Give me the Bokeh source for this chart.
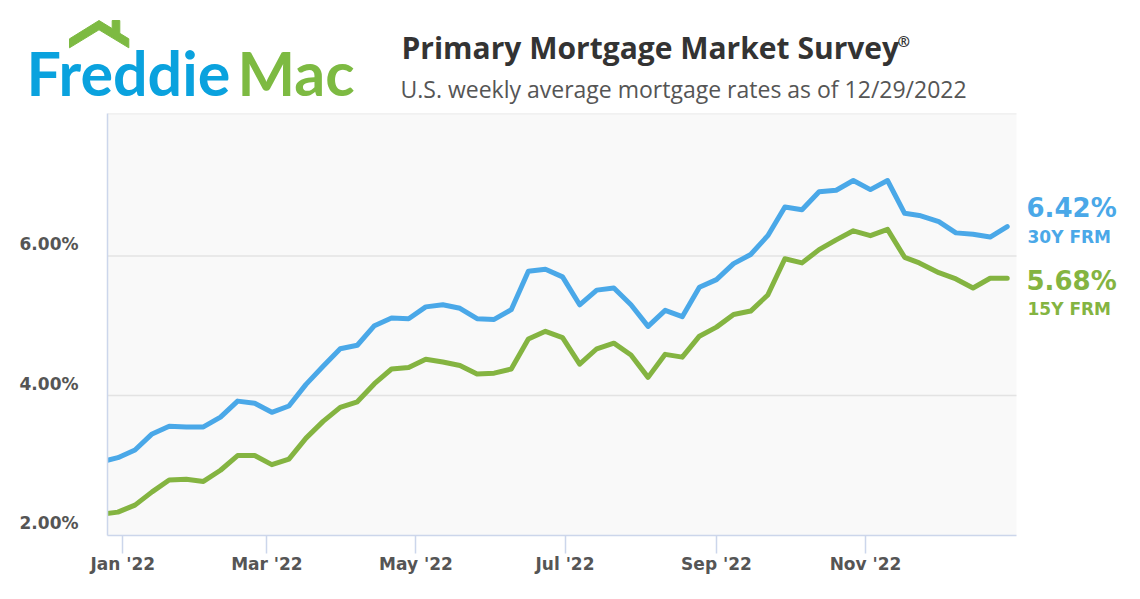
import pandas as pd
from datetime import datetime
from bokeh.plotting import figure
from bokeh.models import (Range1d, FixedTicker, PrintfTickFormatter,
                          DatetimeTickFormatter, Label, BoxAnnotation)
from bokeh.core.properties import value
from bokeh.embed import file_html
from bokeh.resources import INLINE

# ---------------- data ----------------
dates = [
    "2021-12-23", "2021-12-30",
    "2022-01-06", "2022-01-13", "2022-01-20", "2022-01-27",
    "2022-02-03", "2022-02-10", "2022-02-17", "2022-02-24",
    "2022-03-03", "2022-03-10", "2022-03-17", "2022-03-24", "2022-03-31",
    "2022-04-07", "2022-04-14", "2022-04-21", "2022-04-28",
    "2022-05-05", "2022-05-12", "2022-05-19", "2022-05-26",
    "2022-06-02", "2022-06-09", "2022-06-16", "2022-06-23", "2022-06-30",
    "2022-07-07", "2022-07-14", "2022-07-21", "2022-07-28",
    "2022-08-04", "2022-08-11", "2022-08-18", "2022-08-25",
    "2022-09-01", "2022-09-08", "2022-09-15", "2022-09-22", "2022-09-29",
    "2022-10-06", "2022-10-13", "2022-10-20", "2022-10-27",
    "2022-11-03", "2022-11-10", "2022-11-17", "2022-11-23",
    "2022-12-01", "2022-12-08", "2022-12-15", "2022-12-22", "2022-12-29",
]
frm30 = [
    3.05, 3.11,
    3.22, 3.45, 3.56, 3.55,
    3.55, 3.69, 3.92, 3.89,
    3.76, 3.85, 4.16, 4.42, 4.67,
    4.72, 5.00, 5.11, 5.10,
    5.27, 5.30, 5.25, 5.10,
    5.09, 5.23, 5.78, 5.81, 5.70,
    5.30, 5.51, 5.54, 5.30,
    4.99, 5.22, 5.13, 5.55,
    5.66, 5.89, 6.02, 6.29, 6.70,
    6.66, 6.92, 6.94, 7.08,
    6.95, 7.08, 6.61, 6.58,
    6.49, 6.33, 6.31, 6.27, 6.42,
]
frm15 = [
    2.30, 2.33,
    2.43, 2.62, 2.79, 2.80,
    2.77, 2.93, 3.14, 3.14,
    3.01, 3.09, 3.39, 3.63, 3.83,
    3.91, 4.17, 4.38, 4.40,
    4.52, 4.48, 4.43, 4.31,
    4.32, 4.38, 4.81, 4.92, 4.83,
    4.45, 4.67, 4.75, 4.58,
    4.26, 4.59, 4.55, 4.85,
    4.98, 5.16, 5.21, 5.44, 5.96,
    5.90, 6.09, 6.23, 6.36,
    6.29, 6.38, 5.98, 5.90,
    5.76, 5.67, 5.54, 5.68, 5.68,
]
xtick_dates = ["2022-01-01", "2022-03-01", "2022-05-01",
               "2022-07-01", "2022-09-01", "2022-11-01"]
ytick_values = [2, 4, 6]
series_names = ["30Y FRM", "15Y FRM"]

title_text = "Primary Mortgage Market Survey"
subtitle_text = "U.S. weekly average mortgage rates as of 12/29/2022"

BLUE = "#4aa8e8"
GREEN = "#84b441"
LOGO_BLUE = "#0aa2de"
LOGO_GREEN = "#7dba42"
AXIS_FONT = "DejaVu Sans"
TITLE_FONT = "Open Sans"
LOGO_FONT = "Lato"

dts = pd.to_datetime(dates)


def ms(d):
    return pd.Timestamp(d).timestamp() * 1000.0


W = 1140

# ---------------- header (its own root) ----------------
HEAD_H = 108
head = figure(width=W, height=HEAD_H, x_range=Range1d(0, W), y_range=Range1d(HEAD_H, 0),
              output_backend="svg", toolbar_location=None,
              x_axis_location=None, y_axis_location=None,
              min_border=0, outline_line_color=None)
head.grid.visible = False

roof_x = [69, 98.5, 111.7, 111.7, 119.3, 119.3, 128.3, 128.3, 98.5, 69]
roof_y = [38.3, 20, 28.1, 20, 20, 32.8, 38.3, 47.3, 29.3, 47.3]
head.patch(roof_x, roof_y, color=LOGO_GREEN)
head.text(x=[26], y=[72], text=["Freddie"], text_font=value(LOGO_FONT),
          text_font_size="61px", text_font_style="bold", text_color=LOGO_BLUE,
          text_baseline="middle")
head.text(x=[237], y=[72], text=["Mac"], text_font=value(LOGO_FONT),
          text_font_size="61px", text_font_style="bold", text_color=LOGO_GREEN,
          text_baseline="middle")
head.text(x=[401], y=[47], text=[title_text], text_font=value(TITLE_FONT),
          text_font_size="30px", text_font_style="bold", text_color="#333333",
          text_baseline="middle")
head.text(x=[897], y=[40], text=["®"], text_font=value(TITLE_FONT),
          text_font_size="15px", text_font_style="bold", text_color="#333333",
          text_baseline="middle")
head.text(x=[400], y=[88], text=[subtitle_text], text_font=value(TITLE_FONT),
          text_font_size="23px", text_color="#555555", text_baseline="middle")

# ---------------- chart ----------------
x_start = datetime(2021, 12, 25, 18)
x_plot_end = datetime(2023, 1, 1, 19)
y_lo, y_hi = 1.995, 8.04

FRAME_L, FRAME_R_PLOT, CANVAS_R = 107, 1016, W   # screen px
span_ms = ms(x_plot_end) - ms(x_start)
x_frame_end = ms(x_start) + span_ms * (CANVAS_R - FRAME_L) / (FRAME_R_PLOT - FRAME_L)

p = figure(width=W, height=599 - HEAD_H, x_axis_type="datetime",
           x_range=Range1d(ms(x_start), x_frame_end), y_range=Range1d(y_lo, y_hi),
           output_backend="svg", toolbar_location=None,
           min_border_left=FRAME_L, min_border_right=0,
           min_border_top=5, min_border_bottom=64)
p.background_fill_color = "white"
p.border_fill_color = "white"
p.outline_line_color = None

# plot-area background
p.add_layout(BoxAnnotation(left=ms(x_start), right=ms(x_plot_end),
                           fill_color="#f9f9f9", fill_alpha=1.0,
                           line_color=None, level="underlay"))

# grid lines and top border, limited to the plot area
grid_vals = ytick_values[1:] + [y_hi]
p.segment(x0=[ms(x_start)] * len(grid_vals), x1=[ms(x_plot_end)] * len(grid_vals),
          y0=grid_vals, y1=grid_vals, line_color="#e3e3e3", line_width=1.5)

p.line(dts, frm30, line_width=5, color=BLUE, line_join="round", line_cap="round")
p.line(dts, frm15, line_width=5, color=GREEN, line_join="round", line_cap="round")

# x axis
p.xaxis.ticker = FixedTicker(ticks=[ms(d) for d in xtick_dates])
fmt = "%b '%y"
p.xaxis.formatter = DatetimeTickFormatter(days=fmt, months=fmt, years=fmt, hours=fmt)
p.xaxis.bounds = (ms(x_start), ms(x_plot_end))
p.xaxis.axis_line_color = "#ccd6eb"
p.xaxis.axis_line_width = 1.5
p.xaxis.major_tick_line_color = "#ccd6eb"
p.xaxis.major_tick_line_width = 1.5
p.xaxis.major_tick_out = 18
p.xaxis.major_tick_in = 0
p.xaxis.minor_tick_line_color = None
p.xaxis.major_label_text_font = AXIS_FONT
p.xaxis.major_label_text_font_style = "bold"
p.xaxis.major_label_text_font_size = "17px"
p.xaxis.major_label_text_color = "#555555"
p.xaxis.major_label_standoff = 0

# y axis (labels sit just above their grid lines: empty second line)
p.yaxis.ticker = FixedTicker(ticks=ytick_values)
p.yaxis.formatter = PrintfTickFormatter(format="%.2f%%\n ")
p.yaxis.axis_line_color = "#ccd6eb"
p.yaxis.axis_line_width = 1.5
p.yaxis.major_tick_line_color = None
p.yaxis.minor_tick_line_color = None
p.yaxis.major_tick_out = 0
p.yaxis.major_tick_in = 0
p.yaxis.major_label_text_font = AXIS_FONT
p.yaxis.major_label_text_font_style = "bold"
p.yaxis.major_label_text_font_size = "17px"
p.yaxis.major_label_text_color = "#555555"
p.yaxis.major_label_standoff = 29

p.xgrid.visible = False
p.ygrid.visible = False

# end labels
xe = ms(x_plot_end)
for val, name, col, off_v, off_n in [(frm30[-1], series_names[0], BLUE, 19, -10),
                                     (frm15[-1], series_names[1], GREEN, -2.5, -30.5)]:
    p.add_layout(Label(x=xe, y=val, x_offset=10, y_offset=off_v, text=f"{val:.2f}%",
                       text_font=AXIS_FONT, text_font_style="bold", text_font_size="26px",
                       text_color=col, text_baseline="middle"))
    p.add_layout(Label(x=xe, y=val, x_offset=11, y_offset=off_n, text=name,
                       text_font=AXIS_FONT, text_font_style="bold", text_font_size="17px",
                       text_color=col, text_baseline="middle"))

open("out.html", "w").write(file_html([head, p], INLINE))
